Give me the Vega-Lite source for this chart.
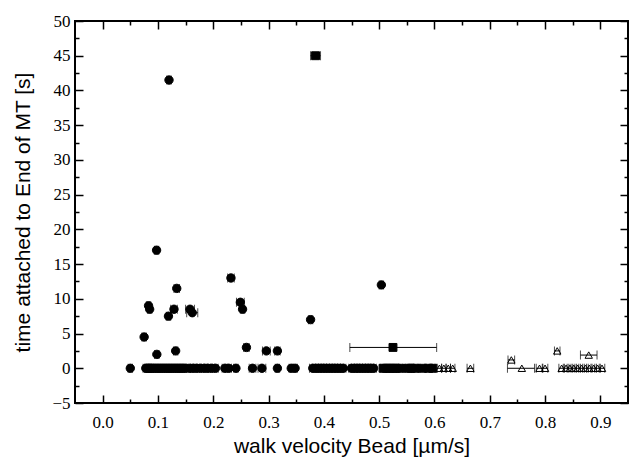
{
  "$schema": "https://vega.github.io/schema/vega-lite/v6.json",
  "width": 553,
  "height": 382,
  "autosize": {"type": "none"},
  "padding": {"left": 75, "top": 21, "right": 1, "bottom": 61},
  "background": "white",
  "config": {
    "view": {"stroke": "black", "strokeWidth": 2},
    "axis": {"domain": false, "grid": false, "tickColor": "black", "tickWidth": 1.5, "labelColor": "black", "titleColor": "black", "labelFont": "Liberation Serif, Times New Roman, DejaVu Serif, serif", "labelFontSize": 17, "titleFont": "Liberation Sans, Arial, sans-serif", "titleFontSize": 21, "titleFontWeight": "normal"}
  },
  "datasets": {
    "pts": [
      {"v": 0.050, "t": 0, "lo": 0.046, "hi": 0.054, "s": "A"},
      {"v": 0.078, "t": 0, "lo": 0.073, "hi": 0.083, "s": "A"},
      {"v": 0.081, "t": 0, "lo": 0.076, "hi": 0.086, "s": "A"},
      {"v": 0.084, "t": 0, "lo": 0.079, "hi": 0.089, "s": "A"},
      {"v": 0.087, "t": 0, "lo": 0.082, "hi": 0.092, "s": "A"},
      {"v": 0.090, "t": 0, "lo": 0.085, "hi": 0.095, "s": "A"},
      {"v": 0.094, "t": 0, "lo": 0.089, "hi": 0.099, "s": "A"},
      {"v": 0.098, "t": 0, "lo": 0.093, "hi": 0.103, "s": "A"},
      {"v": 0.102, "t": 0, "lo": 0.097, "hi": 0.107, "s": "A"},
      {"v": 0.106, "t": 0, "lo": 0.101, "hi": 0.111, "s": "A"},
      {"v": 0.110, "t": 0, "lo": 0.105, "hi": 0.115, "s": "A"},
      {"v": 0.114, "t": 0, "lo": 0.109, "hi": 0.119, "s": "A"},
      {"v": 0.118, "t": 0, "lo": 0.113, "hi": 0.123, "s": "A"},
      {"v": 0.122, "t": 0, "lo": 0.117, "hi": 0.127, "s": "A"},
      {"v": 0.126, "t": 0, "lo": 0.121, "hi": 0.131, "s": "A"},
      {"v": 0.130, "t": 0, "lo": 0.125, "hi": 0.135, "s": "A"},
      {"v": 0.134, "t": 0, "lo": 0.129, "hi": 0.139, "s": "A"},
      {"v": 0.138, "t": 0, "lo": 0.133, "hi": 0.143, "s": "A"},
      {"v": 0.142, "t": 0, "lo": 0.137, "hi": 0.147, "s": "A"},
      {"v": 0.146, "t": 0, "lo": 0.141, "hi": 0.151, "s": "A"},
      {"v": 0.150, "t": 0, "lo": 0.145, "hi": 0.155, "s": "A"},
      {"v": 0.158, "t": 0, "lo": 0.153, "hi": 0.163, "s": "A"},
      {"v": 0.164, "t": 0, "lo": 0.159, "hi": 0.169, "s": "A"},
      {"v": 0.170, "t": 0, "lo": 0.165, "hi": 0.175, "s": "A"},
      {"v": 0.177, "t": 0, "lo": 0.172, "hi": 0.182, "s": "A"},
      {"v": 0.184, "t": 0, "lo": 0.179, "hi": 0.189, "s": "A"},
      {"v": 0.190, "t": 0, "lo": 0.185, "hi": 0.195, "s": "A"},
      {"v": 0.197, "t": 0, "lo": 0.192, "hi": 0.202, "s": "A"},
      {"v": 0.204, "t": 0, "lo": 0.199, "hi": 0.209, "s": "A"},
      {"v": 0.221, "t": 0, "lo": 0.216, "hi": 0.226, "s": "A"},
      {"v": 0.228, "t": 0, "lo": 0.223, "hi": 0.233, "s": "A"},
      {"v": 0.241, "t": 0, "lo": 0.237, "hi": 0.245, "s": "A"},
      {"v": 0.271, "t": 0, "lo": 0.265, "hi": 0.277, "s": "A"},
      {"v": 0.288, "t": 0, "lo": 0.281, "hi": 0.295, "s": "A"},
      {"v": 0.316, "t": 0, "lo": 0.312, "hi": 0.320, "s": "A"},
      {"v": 0.341, "t": 0, "lo": 0.337, "hi": 0.345, "s": "A"},
      {"v": 0.348, "t": 0, "lo": 0.344, "hi": 0.352, "s": "A"},
      {"v": 0.380, "t": 0, "lo": 0.374, "hi": 0.386, "s": "A"},
      {"v": 0.385, "t": 0, "lo": 0.380, "hi": 0.390, "s": "A"},
      {"v": 0.390, "t": 0, "lo": 0.385, "hi": 0.395, "s": "A"},
      {"v": 0.395, "t": 0, "lo": 0.390, "hi": 0.400, "s": "A"},
      {"v": 0.400, "t": 0, "lo": 0.395, "hi": 0.405, "s": "A"},
      {"v": 0.405, "t": 0, "lo": 0.400, "hi": 0.410, "s": "A"},
      {"v": 0.410, "t": 0, "lo": 0.405, "hi": 0.415, "s": "A"},
      {"v": 0.415, "t": 0, "lo": 0.410, "hi": 0.420, "s": "A"},
      {"v": 0.420, "t": 0, "lo": 0.415, "hi": 0.425, "s": "A"},
      {"v": 0.425, "t": 0, "lo": 0.420, "hi": 0.430, "s": "A"},
      {"v": 0.430, "t": 0, "lo": 0.425, "hi": 0.435, "s": "A"},
      {"v": 0.435, "t": 0, "lo": 0.430, "hi": 0.440, "s": "A"},
      {"v": 0.450, "t": 0, "lo": 0.445, "hi": 0.455, "s": "A"},
      {"v": 0.455, "t": 0, "lo": 0.450, "hi": 0.460, "s": "A"},
      {"v": 0.460, "t": 0, "lo": 0.455, "hi": 0.465, "s": "A"},
      {"v": 0.465, "t": 0, "lo": 0.460, "hi": 0.470, "s": "A"},
      {"v": 0.470, "t": 0, "lo": 0.465, "hi": 0.475, "s": "A"},
      {"v": 0.475, "t": 0, "lo": 0.470, "hi": 0.480, "s": "A"},
      {"v": 0.480, "t": 0, "lo": 0.475, "hi": 0.485, "s": "A"},
      {"v": 0.485, "t": 0, "lo": 0.480, "hi": 0.490, "s": "A"},
      {"v": 0.490, "t": 0, "lo": 0.485, "hi": 0.495, "s": "A"},
      {"v": 0.075, "t": 4.5, "lo": 0.071, "hi": 0.079, "s": "A"},
      {"v": 0.083, "t": 9.0, "lo": 0.079, "hi": 0.087, "s": "A"},
      {"v": 0.085, "t": 8.5, "lo": 0.081, "hi": 0.089, "s": "A"},
      {"v": 0.0975, "t": 17.0, "lo": 0.0935, "hi": 0.1015, "s": "A"},
      {"v": 0.098, "t": 2.0, "lo": 0.094, "hi": 0.102, "s": "A"},
      {"v": 0.120, "t": 41.5, "lo": 0.116, "hi": 0.124, "s": "A"},
      {"v": 0.119, "t": 7.5, "lo": 0.115, "hi": 0.123, "s": "A"},
      {"v": 0.129, "t": 8.5, "lo": 0.123, "hi": 0.135, "s": "A"},
      {"v": 0.134, "t": 11.5, "lo": 0.129, "hi": 0.139, "s": "A"},
      {"v": 0.132, "t": 2.5, "lo": 0.128, "hi": 0.136, "s": "A"},
      {"v": 0.158, "t": 8.5, "lo": 0.150, "hi": 0.166, "s": "A"},
      {"v": 0.162, "t": 8.0, "lo": 0.152, "hi": 0.172, "s": "A"},
      {"v": 0.232, "t": 13.0, "lo": 0.226, "hi": 0.238, "s": "A"},
      {"v": 0.249, "t": 9.5, "lo": 0.242, "hi": 0.256, "s": "A"},
      {"v": 0.253, "t": 8.5, "lo": 0.249, "hi": 0.257, "s": "A"},
      {"v": 0.260, "t": 3.0, "lo": 0.255, "hi": 0.265, "s": "A"},
      {"v": 0.296, "t": 2.5, "lo": 0.289, "hi": 0.303, "s": "A"},
      {"v": 0.316, "t": 2.5, "lo": 0.311, "hi": 0.321, "s": "A"},
      {"v": 0.376, "t": 7.0, "lo": 0.372, "hi": 0.380, "s": "A"},
      {"v": 0.504, "t": 12.0, "lo": 0.500, "hi": 0.508, "s": "A"},
      {"v": 0.385, "t": 45.0, "lo": 0.376, "hi": 0.394, "s": "B"},
      {"v": 0.525, "t": 3.0, "lo": 0.447, "hi": 0.604, "s": "B"},
      {"v": 0.507, "t": 0, "lo": 0.503, "hi": 0.511, "s": "B"},
      {"v": 0.513, "t": 0, "lo": 0.509, "hi": 0.517, "s": "B"},
      {"v": 0.519, "t": 0, "lo": 0.515, "hi": 0.523, "s": "B"},
      {"v": 0.525, "t": 0, "lo": 0.521, "hi": 0.529, "s": "B"},
      {"v": 0.531, "t": 0, "lo": 0.527, "hi": 0.535, "s": "B"},
      {"v": 0.538, "t": 0, "lo": 0.534, "hi": 0.542, "s": "B"},
      {"v": 0.552, "t": 0, "lo": 0.548, "hi": 0.556, "s": "B"},
      {"v": 0.558, "t": 0, "lo": 0.554, "hi": 0.562, "s": "B"},
      {"v": 0.565, "t": 0, "lo": 0.561, "hi": 0.569, "s": "B"},
      {"v": 0.578, "t": 0, "lo": 0.574, "hi": 0.582, "s": "B"},
      {"v": 0.590, "t": 0, "lo": 0.585, "hi": 0.595, "s": "B"},
      {"v": 0.597, "t": 0, "lo": 0.593, "hi": 0.601, "s": "B"},
      {"v": 0.609, "t": 0, "lo": 0.605, "hi": 0.613, "s": "C"},
      {"v": 0.617, "t": 0, "lo": 0.613, "hi": 0.621, "s": "C"},
      {"v": 0.625, "t": 0, "lo": 0.621, "hi": 0.629, "s": "C"},
      {"v": 0.633, "t": 0, "lo": 0.629, "hi": 0.637, "s": "C"},
      {"v": 0.665, "t": 0, "lo": 0.659, "hi": 0.671, "s": "C"},
      {"v": 0.758, "t": 0, "lo": 0.732, "hi": 0.781, "s": "C"},
      {"v": 0.790, "t": 0, "lo": 0.784, "hi": 0.796, "s": "C"},
      {"v": 0.800, "t": 0, "lo": 0.795, "hi": 0.805, "s": "C"},
      {"v": 0.830, "t": 0, "lo": 0.825, "hi": 0.835, "s": "C"},
      {"v": 0.838, "t": 0, "lo": 0.833, "hi": 0.843, "s": "C"},
      {"v": 0.845, "t": 0, "lo": 0.840, "hi": 0.850, "s": "C"},
      {"v": 0.852, "t": 0, "lo": 0.847, "hi": 0.857, "s": "C"},
      {"v": 0.859, "t": 0, "lo": 0.854, "hi": 0.864, "s": "C"},
      {"v": 0.866, "t": 0, "lo": 0.861, "hi": 0.871, "s": "C"},
      {"v": 0.873, "t": 0, "lo": 0.868, "hi": 0.878, "s": "C"},
      {"v": 0.880, "t": 0, "lo": 0.875, "hi": 0.885, "s": "C"},
      {"v": 0.888, "t": 0, "lo": 0.883, "hi": 0.893, "s": "C"},
      {"v": 0.895, "t": 0, "lo": 0.890, "hi": 0.900, "s": "C"},
      {"v": 0.903, "t": 0, "lo": 0.898, "hi": 0.908, "s": "C"},
      {"v": 0.739, "t": 1.2, "lo": 0.733, "hi": 0.745, "s": "C"},
      {"v": 0.822, "t": 2.5, "lo": 0.817, "hi": 0.827, "s": "C"},
      {"v": 0.879, "t": 1.9, "lo": 0.864, "hi": 0.894, "s": "C"}
    ]
  },
  "data": {"name": "pts"},
  "layer": [
    {
      "mark": {"type": "errorbar", "ticks": {"size": 9, "color": "black", "thickness": 1}, "rule": {"color": "black", "strokeWidth": 1}},
      "encoding": {
        "x": {"field": "lo", "type": "quantitative", "axis": null, "scale": {"domain": [-0.05, 0.95], "nice": false, "zero": false}},
        "x2": {"field": "hi"},
        "y": {"field": "t", "type": "quantitative", "axis": null, "scale": {"domain": [-5, 50], "nice": false, "zero": false}}
      }
    },
    {
      "mark": {"type": "point", "filled": true, "stroke": "black", "strokeWidth": 1, "opacity": 1},
      "encoding": {
        "x": {"field": "v", "type": "quantitative", "scale": {"domain": [-0.05, 0.95], "nice": false, "zero": false},
          "axis": {"orient": "bottom", "values": [0, 0.1, 0.2, 0.3, 0.4, 0.5, 0.6, 0.7, 0.8, 0.9], "format": ".1f", "tickSize": -8, "labelPadding": 19, "labelFont": "Liberation Serif, Times New Roman, DejaVu Serif, serif", "labelFontSize": 17, "title": "walk velocity Bead [µm/s]", "titlePadding": 5}},
        "y": {"field": "t", "type": "quantitative", "scale": {"domain": [-5, 50], "nice": false, "zero": false},
          "axis": {"orient": "left", "values": [-5, 0, 5, 10, 15, 20, 25, 30, 35, 40, 45, 50], "tickSize": -8, "labelPadding": 13, "labelFont": "Liberation Serif, Times New Roman, DejaVu Serif, serif", "labelFontSize": 17, "title": "time attached to End of MT [s]", "titlePadding": 18}},
        "shape": {"field": "s", "type": "nominal", "scale": {"domain": ["A", "B", "C"], "range": ["circle", "square", "triangle-up"]}, "legend": null},
        "fill": {"field": "s", "type": "nominal", "scale": {"domain": ["A", "B", "C"], "range": ["black", "black", "transparent"]}, "legend": null},
        "size": {"field": "s", "type": "ordinal", "scale": {"domain": ["A", "B", "C"], "range": [70, 55, 120]}, "legend": null}
      }
    },
    {
      "mark": {"type": "point", "opacity": 0},
      "encoding": {
        "x": {"field": "v", "type": "quantitative", "scale": {"domain": [-0.05, 0.95], "nice": false, "zero": false},
          "axis": {"orient": "bottom", "values": [0.05, 0.15, 0.25, 0.35, 0.45, 0.55, 0.65, 0.75, 0.85], "tickSize": -4, "labels": false, "title": null}},
        "y": {"field": "t", "type": "quantitative", "scale": {"domain": [-5, 50], "nice": false, "zero": false},
          "axis": {"orient": "left", "values": [-2.5, 2.5, 7.5, 12.5, 17.5, 22.5, 27.5, 32.5, 37.5, 42.5, 47.5], "tickSize": -4, "labels": false, "title": null}}
      }
    },
    {
      "mark": {"type": "point", "opacity": 0},
      "encoding": {
        "x": {"field": "v", "type": "quantitative", "scale": {"domain": [-0.05, 0.95], "nice": false, "zero": false},
          "axis": {"orient": "top", "values": [0, 0.1, 0.2, 0.3, 0.4, 0.5, 0.6, 0.7, 0.8, 0.9], "tickSize": -8, "labels": false, "title": null}},
        "y": {"field": "t", "type": "quantitative", "scale": {"domain": [-5, 50], "nice": false, "zero": false},
          "axis": {"orient": "right", "values": [-5, 0, 5, 10, 15, 20, 25, 30, 35, 40, 45, 50], "tickSize": -8, "labels": false, "title": null}}
      }
    },
    {
      "mark": {"type": "point", "opacity": 0},
      "encoding": {
        "x": {"field": "v", "type": "quantitative", "scale": {"domain": [-0.05, 0.95], "nice": false, "zero": false},
          "axis": {"orient": "top", "values": [0.05, 0.15, 0.25, 0.35, 0.45, 0.55, 0.65, 0.75, 0.85], "tickSize": -4, "labels": false, "title": null}},
        "y": {"field": "t", "type": "quantitative", "scale": {"domain": [-5, 50], "nice": false, "zero": false},
          "axis": {"orient": "right", "values": [-2.5, 2.5, 7.5, 12.5, 17.5, 22.5, 27.5, 32.5, 37.5, 42.5, 47.5], "tickSize": -4, "labels": false, "title": null}}
      }
    }
  ],
  "resolve": {"axis": {"x": "independent", "y": "independent"}}
}
